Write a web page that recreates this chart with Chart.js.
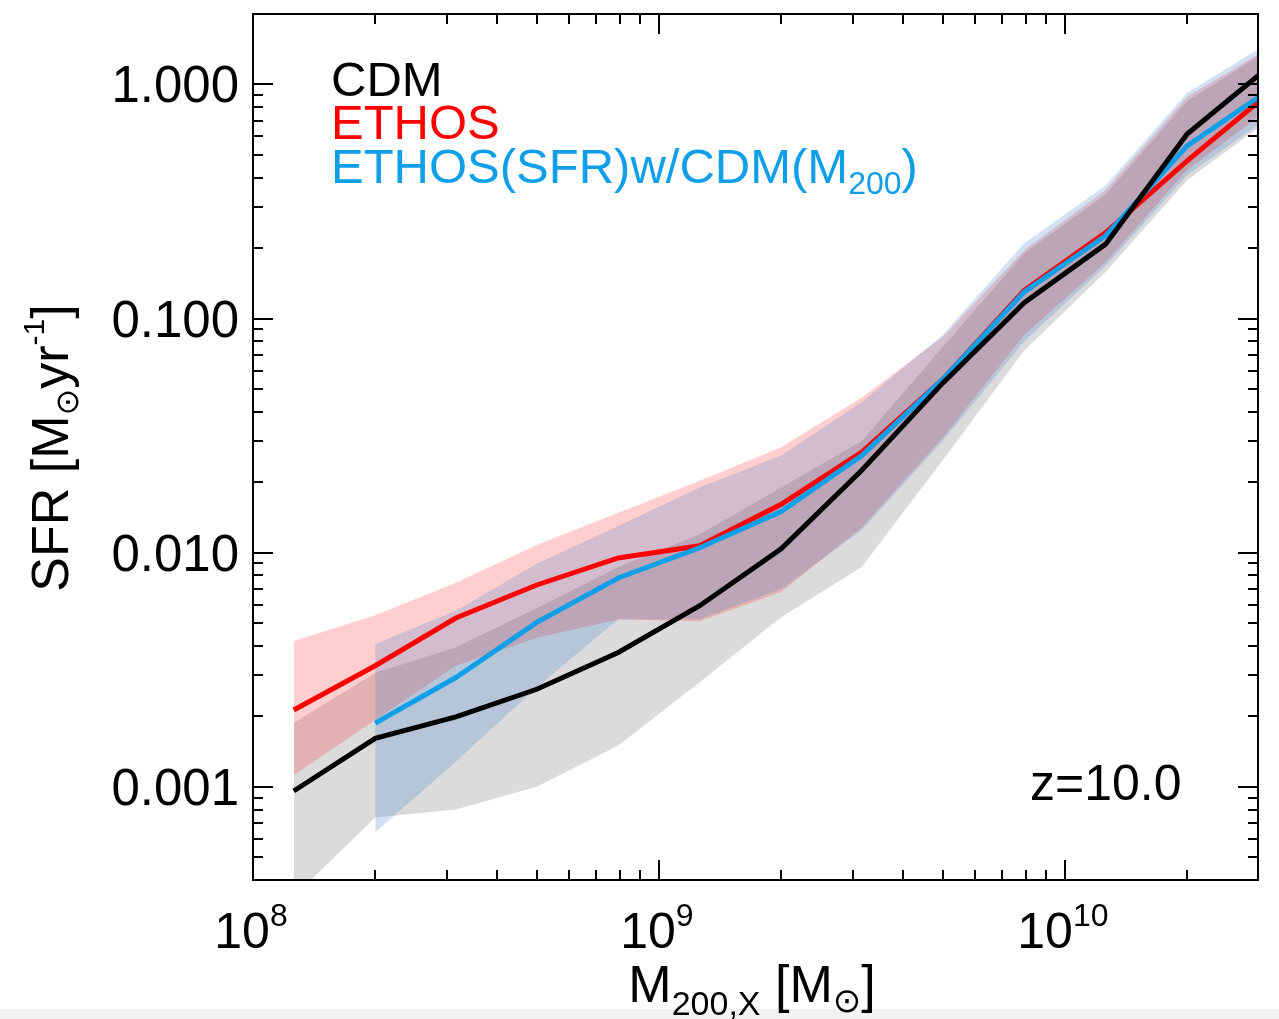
<!DOCTYPE html>
<html lang="en">
<head>
<meta charset="UTF-8">
<title>SFR vs halo mass, z=10</title>
<script src="https://cdn.jsdelivr.net/npm/chart.js"></script>
<style>
  body { margin: 0; background: #fff; }
  canvas { display: block; }
</style>
</head>
<body>
<canvas id="sfrChart" width="1279" height="1019"></canvas>
<script>
// halo mass bin centres [Msun]
const massBins = [1.26e8, 2.0e8, 3.16e8, 5.0e8, 7.94e8, 1.26e9, 2.0e9, 3.16e9, 5.0e9, 7.94e9, 1.26e10, 2.0e10, 3.16e10];

// median SFR per bin [Msun/yr]
const cdmSfr   = [9.6e-4, 1.61e-3, 1.99e-3, 2.61e-3, 3.75e-3, 5.94e-3, 0.0104, 0.0225, 0.053, 0.117, 0.208, 0.614, 1.18];
const ethosSfr = [2.13e-3, 3.29e-3, 5.26e-3, 7.28e-3, 9.5e-3, 0.0107, 0.0161, 0.0269, 0.055, 0.132, 0.233, 0.472, 0.91];
const mixSfr   = [null, 1.87e-3, 2.93e-3, 5.04e-3, 7.8e-3, 0.0105, 0.0150, 0.026, 0.055, 0.13, 0.226, 0.547, 0.94];

// scatter bands (lower / upper)
const cdmLow    = [3.4e-4, 7.4e-4, 8.0e-4, 1.0e-3, 1.5e-3, 2.8e-3, 5.3e-3, 8.7e-3, 0.0248, 0.073, 0.158, 0.39, 0.70];
const cdmHigh   = [1.88e-3, 3.07e-3, 3.94e-3, 5.8e-3, 8.7e-3, 0.012, 0.019, 0.030, 0.0757, 0.19, 0.34, 0.85, 1.4];
const ethosLow  = [1.12e-3, 1.93e-3, 3.29e-3, 4.33e-3, 5.18e-3, 5.1e-3, 6.8e-3, 0.0128, 0.031, 0.085, 0.174, 0.43, 0.78];
const ethosHigh = [4.2e-3, 5.4e-3, 7.45e-3, 0.0108, 0.0148, 0.0203, 0.0282, 0.046, 0.0834, 0.196, 0.354, 0.887, 1.42];
const mixLow    = [null, 6.4e-4, 1.28e-3, 2.66e-3, 5.2e-3, 5.2e-3, 7.0e-3, 0.0125, 0.030, 0.080, 0.168, 0.41, 0.72];
const mixHigh   = [null, 4.07e-3, 5.65e-3, 8.98e-3, 0.013, 0.019, 0.026, 0.044, 0.085, 0.21, 0.37, 0.92, 1.5];

const yTickValues = [0.001, 0.01, 0.1, 1];
const yTickLabels = ['0.001', '0.010', '0.100', '1.000'];
const xTickExponents = [8, 9, 10];

const REG = '"Liberation Sans", Arial, sans-serif';
const NARROW = '"Liberation Sans Narrow", "Arial Narrow", "Liberation Sans", sans-serif';
const BLUE = '#0e9fe8';

function pts(arr) {
    return massBins.map((m, i) => ({ x: m, y: arr[i] })).filter(p => p.y != null);
}

function line(label, arr, color) {
    return { label, data: pts(arr), borderColor: color, borderWidth: 5, fill: false, pointRadius: 0, clip: 0 };
}
function bandTop(arr, color) {
    return { data: pts(arr), borderWidth: 0, borderColor: 'rgba(0,0,0,0)', backgroundColor: color, fill: '+1', pointRadius: 0, clip: 0 };
}
function bandBottom(arr) {
    return { data: pts(arr), borderWidth: 0, borderColor: 'rgba(0,0,0,0)', fill: false, pointRadius: 0, clip: 0 };
}

// draws a run of text pieces with sub/superscripts
function drawRich(ctx, parts, x, y, align) {
    let w = 0;
    parts.forEach(p => { ctx.font = p.size + 'px ' + (p.font || NARROW); p.w = ctx.measureText(p.t).width; w += p.w; });
    let cx = align === 'center' ? x - w / 2 : x;
    parts.forEach(p => {
        ctx.font = p.size + 'px ' + (p.font || NARROW);
        ctx.fillText(p.t, cx, y + (p.dy || 0));
        cx += p.w;
    });
}

const decorations = {
    id: 'decorations',
    beforeDraw(chart) {
        const ctx = chart.ctx;
        ctx.save();
        ctx.fillStyle = '#f2f2f2';
        ctx.fillRect(0, 1009, chart.width, chart.height - 1009);
        ctx.restore();
    },
    afterDraw(chart) {
        const { ctx, chartArea: a, scales: { x, y } } = chart;
        ctx.save();
        ctx.strokeStyle = '#000';
        ctx.lineWidth = 2;
        ctx.beginPath();
        // x ticks, inward, top and bottom
        for (let d = 8; d <= 10; d++) {
            for (let k = 1; k <= 9; k++) {
                const v = k * Math.pow(10, d);
                if (v <= x.min || v >= x.max) continue;
                const px = Math.round(x.getPixelForValue(v));
                const len = k === 1 ? 20 : 10;
                ctx.moveTo(px, a.bottom); ctx.lineTo(px, a.bottom - len);
                ctx.moveTo(px, a.top); ctx.lineTo(px, a.top + len);
            }
        }
        // y ticks, inward, left and right
        for (let d = -4; d <= 0; d++) {
            for (let k = 1; k <= 9; k++) {
                const v = k * Math.pow(10, d);
                if (v <= y.min || v >= y.max) continue;
                const py = Math.round(y.getPixelForValue(v));
                const len = k === 1 ? 20 : 10;
                ctx.moveTo(a.left, py); ctx.lineTo(a.left + len, py);
                ctx.moveTo(a.right, py); ctx.lineTo(a.right - len, py);
            }
        }
        ctx.stroke();
        ctx.strokeRect(a.left, a.top, a.right - a.left, a.bottom - a.top);

        ctx.fillStyle = '#000';
        ctx.textBaseline = 'alphabetic';
        // y tick labels
        ctx.font = '51px ' + REG;
        ctx.textAlign = 'right';
        yTickValues.forEach((v, i) => {
            ctx.fillText(yTickLabels[i], 239, y.getPixelForValue(v) + 18);
        });
        ctx.textAlign = 'left';
        // x tick labels 10^n
        xTickExponents.forEach(e => {
            const px = x.getPixelForValue(Math.pow(10, e));
            drawRich(ctx, [{ t: '10', size: 50 }, { t: String(e), size: 32, dy: -22 }], px - 2, 948, 'center');
        });
        // x title
        drawRich(ctx, [
            { t: 'M', size: 52 }, { t: '200,X', size: 34, dy: 13 },
            { t: ' [M', size: 52 }, { t: '\u2299', size: 34, dy: 10, font: '"DejaVu Sans", sans-serif' }, { t: ']', size: 52 }
        ], 752, 1002, 'center');
        // y title
        ctx.save();
        ctx.translate(50, 448);
        ctx.rotate(-Math.PI / 2);
        drawRich(ctx, [
            { t: 'SFR [M', size: 52 }, { t: '\u2299', size: 32, dy: 10, font: '"DejaVu Sans", sans-serif' },
            { t: 'yr', size: 52 }, { t: '-1', size: 30, dy: -24 }, { t: ']', size: 52 }
        ], 0, 18, 'center');
        ctx.restore();

        // legend text
        ctx.font = '49px ' + REG;
        ctx.fillStyle = '#000';
        ctx.fillText('CDM', 331, 96);
        ctx.fillStyle = '#ff0000';
        ctx.fillText('ETHOS', 331, 139);
        ctx.fillStyle = BLUE;
        drawRich(ctx, [
            { t: 'ETHOS(SFR)w/CDM(M', size: 49, font: REG }, { t: '200', size: 32, dy: 11, font: REG },
            { t: ')', size: 49, font: REG }
        ], 331, 183, 'left');

        ctx.fillStyle = '#000';
        ctx.font = '50px ' + REG;
        ctx.fillText('z=10.0', 1030, 800);
        ctx.restore();
    }
};

const ctx = document.getElementById('sfrChart').getContext('2d');
new Chart(ctx, {
    type: 'line',
    data: {
        datasets: [
            line('CDM', cdmSfr, '#000000'),
            line('ETHOS(SFR)w/CDM(M200)', mixSfr, BLUE),
            line('ETHOS', ethosSfr, '#ff0000'),
            bandTop(mixHigh, 'rgba(30,110,200,0.2)'),
            bandBottom(mixLow),
            bandTop(ethosHigh, 'rgba(255,0,0,0.19)'),
            bandBottom(ethosLow),
            bandTop(cdmHigh, 'rgba(0,0,0,0.14)'),
            bandBottom(cdmLow)
        ]
    },
    options: {
        responsive: false,
        animation: false,
        devicePixelRatio: 1,
        layout: { padding: { top: 14, right: 21, left: 0, bottom: 0 } },
        elements: { line: { tension: 0 } },
        plugins: { legend: { display: false }, tooltip: { enabled: false } },
        scales: {
            x: {
                type: 'logarithmic',
                min: 1e8,
                max: 2.99e10,
                grid: { display: false, drawTicks: false },
                border: { display: false },
                ticks: { display: false },
                afterFit(scale) { scale.height = 139; scale.paddingLeft = 0; scale.paddingRight = 0; }
            },
            y: {
                type: 'logarithmic',
                min: 4e-4,
                max: 2.0,
                grid: { display: false, drawTicks: false },
                border: { display: false },
                ticks: { display: false },
                afterFit(scale) { scale.width = 253; scale.paddingTop = 0; scale.paddingBottom = 0; }
            }
        }
    },
    plugins: [decorations]
});
</script>
</body>
</html>
